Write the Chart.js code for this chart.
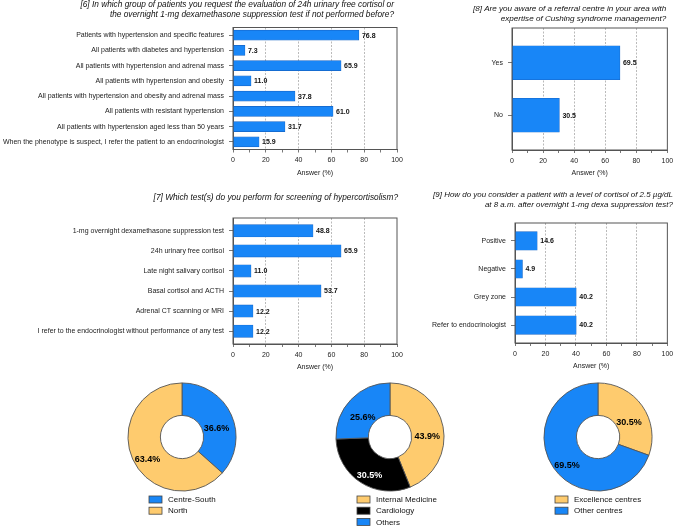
<!DOCTYPE html>
<html>
<head>
<meta charset="utf-8">
<script src="https://cdn.jsdelivr.net/npm/chart.js@4.4.0/dist/chart.umd.min.js"></script>
<style>
html, body { margin: 0; padding: 0; background: #fff; }
#wrap { position: relative; width: 677px; height: 531px; overflow: hidden; }
#wrap canvas { position: absolute; }
</style>
</head>
<body>
<div id="wrap">
  <canvas id="q6"></canvas>
  <canvas id="q8"></canvas>
  <canvas id="q7"></canvas>
  <canvas id="q9"></canvas>
  <canvas id="region"></canvas>
  <canvas id="specialty"></canvas>
  <canvas id="centre"></canvas>
</div>
<script>
const FONT = "'Liberation Sans', Arial, Helvetica, sans-serif";
const BLUE = '#1886f7';
const YELLOW = '#fecb6e';
const BLACK = '#000000';
const AXIS = '#555555';
const GRID = '#a8a8a8';

// question 6
const q6Title = [
    '[6] In which group of patients you request the evaluation of 24h urinary free cortisol or',
    'the overnight 1-mg dexamethasone suppression test if not performed before?'
];
const q6Labels = [
    'Patients with hypertension and specific features',
    'All patients with diabetes and hypertension',
    'All patients with hypertension and adrenal mass',
    'All patients with hypertension and obesity',
    'All patients with hypertension and obesity and adrenal mass',
    'All patients with resistant hypertension',
    'All patients with hypertension aged less than 50 years',
    'When the phenotype is suspect, I refer the patient to an endocrinologist'
];
const q6Values = [76.8, 7.3, 65.9, 11.0, 37.8, 61.0, 31.7, 15.9];

// question 8
const q8Title = [
    '[8] Are you aware of a referral centre in your area with',
    'expertise of Cushing syndrome management?'
];
const q8Labels = ['Yes', 'No'];
const q8Values = [69.5, 30.5];

// question 7
const q7Title = ['[7] Which test(s) do you perform for screening of hypercortisolism?'];
const q7Labels = [
    '1-mg overnight dexamethasone suppression test',
    '24h urinary free cortisol',
    'Late night salivary cortisol',
    'Basal cortisol and ACTH',
    'Adrenal CT scanning or MRI',
    'I refer to the endocrinologist without performance of any test'
];
const q7Values = [48.8, 65.9, 11.0, 53.7, 12.2, 12.2];

// question 9
const q9Title = [
    '[9] How do you consider a patient with a level of cortisol of 2.5 \u00b5g/dL',
    'at 8 a.m. after overnight 1-mg dexa suppression test?'
];
const q9Labels = ['Positive', 'Negative', 'Grey zone', 'Refer to endocrinologist'];
const q9Values = [14.6, 4.9, 40.2, 40.2];

const xTickLabels = [0, 20, 40, 60, 80, 100];

// donuts
const regionLabels = ['Centre-South', 'North'];
const regionValues = [36.6, 63.4];
const specialtyLabels = ['Internal Medicine', 'Cardiology', 'Others'];
const specialtyValues = [43.9, 30.5, 25.6];
const centreLabels = ['Excellence centres', 'Other centres'];
const centreValues = [30.5, 69.5];

function placeCanvas(id, left, top, w, h) {
    const c = document.getElementById(id);
    c.width = w;
    c.height = h;
    c.style.left = left + 'px';
    c.style.top = top + 'px';
    c.style.width = w + 'px';
    c.style.height = h + 'px';
    return c;
}

// box around the plot area
const framePlugin = {
    id: 'frame',
    afterDraw(chart) {
        const {ctx, chartArea: a} = chart;
        ctx.save();
        ctx.strokeStyle = AXIS;
        ctx.lineWidth = 1;
        ctx.strokeRect(a.left, a.top, a.right - a.left, a.bottom - a.top);
        ctx.restore();
    }
};

const barValuePlugin = {
    id: 'barValues',
    afterDatasetsDraw(chart) {
        const {ctx} = chart;
        const meta = chart.getDatasetMeta(0);
        const pts = chart.data.datasets[0].data;
        ctx.save();
        ctx.font = 'bold 7px ' + FONT;
        ctx.fillStyle = '#111';
        ctx.textAlign = 'left';
        ctx.textBaseline = 'middle';
        meta.data.forEach((bar, i) => {
            ctx.fillText(pts[i].x.toFixed(1), bar.x + 3, bar.y + 0.5);
        });
        ctx.restore();
    }
};

function titlePlugin(t) {
    return {
        id: 'qtitle',
        afterDraw(chart) {
            const ctx = chart.ctx;
            ctx.save();
            ctx.font = 'italic ' + t.size + 'px ' + FONT;
            ctx.fillStyle = '#111';
            ctx.textAlign = 'right';
            ctx.textBaseline = 'middle';
            t.lines.forEach((s, i) => ctx.fillText(s, chart.chartArea.right + t.dx, t.y + i * t.lh));
            ctx.restore();
        }
    };
}

function barChart(id, box, plot, title, labels, values, barPx, pad) {
    const c = placeCanvas(id, box.x, box.y, box.w, box.h);
    return new Chart(c, {
        type: 'bar',
        data: {
            datasets: [{
                data: values.map((v, i) => ({x: v, y: i})),
                backgroundColor: BLUE,
                borderColor: '#1463c4',
                borderWidth: 0.6,
                borderSkipped: false,
                barThickness: barPx
            }]
        },
        options: {
            indexAxis: 'y',
            responsive: false,
            animation: false,
            layout: {
                padding: {left: 0, top: plot.t - box.y, right: box.x + box.w - plot.r, bottom: 0}
            },
            scales: {
                x: {
                    type: 'linear',
                    min: 0,
                    max: 100,
                    afterFit: s => { s.height = box.y + box.h - plot.b; },
                    ticks: {
                        stepSize: 10,
                        autoSkip: false,
                        maxRotation: 0,
                        padding: 3.8,
                        color: '#222',
                        font: {family: FONT, size: 7},
                        callback: v => xTickLabels.includes(v) ? v : ''
                    },
                    grid: {
                        color: ctx => (ctx.tick && ctx.tick.value % 20 === 0 && ctx.tick.value > 0 && ctx.tick.value < 100) ? GRID : 'rgba(0,0,0,0)',
                        lineWidth: 0.8,
                        tickLength: 3,
                        tickColor: AXIS,
                        tickWidth: 0.8
                    },
                    border: {display: true, color: AXIS, width: 1, dash: [2, 1.5]},
                    title: {
                        display: true,
                        text: 'Answer (%)',
                        color: '#222',
                        font: {family: FONT, size: 7},
                        padding: {top: 0, bottom: 0.3}
                    }
                },
                y: {
                    type: 'linear',
                    reverse: true,
                    bounds: 'data',
                    offset: false,
                    min: -0.5 - pad,
                    max: labels.length - 0.5 + pad,
                    afterBuildTicks: s => { s.ticks = labels.map((l, i) => ({value: i})); },
                    afterFit: s => { s.width = plot.l - box.x; },
                    ticks: {
                        autoSkip: false,
                        padding: 5,
                        color: '#222',
                        font: {family: FONT, size: 7},
                        callback: v => labels[v]
                    },
                    grid: {offset: false, drawOnChartArea: false, tickLength: 4, tickColor: AXIS, tickWidth: 0.8},
                    border: {color: AXIS, width: 1}
                }
            },
            plugins: {
                legend: {display: false},
                tooltip: {enabled: false}
            }
        },
        plugins: [framePlugin, barValuePlugin, titlePlugin(title)]
    });
}

function arcLabelPlugin(textColors) {
    return {
        id: 'arcLabels',
        afterDatasetsDraw(chart) {
            const {ctx} = chart;
            const meta = chart.getDatasetMeta(0);
            const vals = chart.data.datasets[0].data;
            ctx.save();
            ctx.font = 'bold 9px ' + FONT;
            ctx.textAlign = 'center';
            ctx.textBaseline = 'middle';
            meta.data.forEach((arc, i) => {
                const p = arc.tooltipPosition();
                ctx.fillStyle = textColors[i];
                ctx.fillText(vals[i].toFixed(1) + '%', p.x, p.y + 7);
            });
            ctx.restore();
        }
    };
}

function legendPlugin(dx) {
    return {
        id: 'donutLegend',
        afterDraw(chart) {
            const {ctx, chartArea: a} = chart;
            const ds = chart.data.datasets[0];
            const cx = (a.left + a.right) / 2;
            ctx.save();
            ctx.font = '8px ' + FONT;
            ctx.textAlign = 'left';
            ctx.textBaseline = 'middle';
            chart.data.labels.forEach((lab, i) => {
                const y = a.bottom + 8 + i * 11.2;
                const x = cx + dx;
                ctx.fillStyle = ds.backgroundColor[i];
                ctx.fillRect(x, y - 3.5, 13, 7);
                ctx.strokeStyle = '#444';
                ctx.lineWidth = 0.8;
                ctx.strokeRect(x, y - 3.5, 13, 7);
                ctx.fillStyle = '#111';
                ctx.fillText(lab, x + 19, y + 0.5);
            });
            ctx.restore();
        }
    };
}

function donutChart(id, cx, cy, r, labels, values, colors, textColors, legendDx) {
    const size = 2 * r + 1;
    const w = 220;
    const top = cy - r - 5.5;
    const canvasTop = Math.floor(top) - 1;
    const h = 531 - canvasTop;
    const c = placeCanvas(id, cx - w / 2, canvasTop, w, h);
    const padTop = top - canvasTop;
    return new Chart(c, {
        type: 'doughnut',
        data: {
            labels: labels,
            datasets: [{
                data: values,
                backgroundColor: colors,
                borderColor: '#555',
                borderWidth: 0.9
            }]
        },
        options: {
            responsive: false,
            animation: false,
            cutout: '40%',
            layout: {
                padding: {
                    left: (w - size) / 2,
                    right: (w - size) / 2,
                    top: padTop,
                    bottom: h - padTop - size
                }
            },
            plugins: {
                legend: {display: false},
                tooltip: {enabled: false}
            }
        },
        plugins: [arcLabelPlugin(textColors), legendPlugin(legendDx)]
    });
}

barChart('q6', {x: 0, y: 0, w: 410, h: 178},
    {l: 233, r: 397, t: 27.5, b: 149.5},
    {lines: q6Title, y: 5, lh: 10, dx: -3, size: 8.3},
    q6Labels, q6Values, 10, 0);

barChart('q8', {x: 415, y: 0, w: 262, h: 178},
    {l: 512, r: 669, t: 28, b: 150},
    {lines: q8Title, y: 9, lh: 9.5, dx: -1, size: 8.1},
    q8Labels, q8Values, 34, 0.16);

barChart('q7', {x: 0, y: 185, w: 410, h: 187},
    {l: 233, r: 397, t: 218, b: 344},
    {lines: q7Title, y: 13, lh: 10, dx: 1, size: 8.3},
    q7Labels, q7Values, 12.3, 0.14);

barChart('q9', {x: 412, y: 185, w: 265, h: 186},
    {l: 515, r: 671, t: 223, b: 343},
    {lines: q9Title, y: 10, lh: 9.5, dx: 5.5, size: 7.95},
    q9Labels, q9Values, 18.5, 0.14);

donutChart('region', 182, 442, 54, regionLabels, regionValues,
    [BLUE, YELLOW], ['#000', '#000'], -33);
donutChart('specialty', 390, 442, 54, specialtyLabels, specialtyValues,
    [YELLOW, BLACK, BLUE], ['#000', '#fff', '#000'], -33);
donutChart('centre', 598, 442, 54, centreLabels, centreValues,
    [YELLOW, BLUE], ['#000', '#000'], -43);
</script>
</body>
</html>
